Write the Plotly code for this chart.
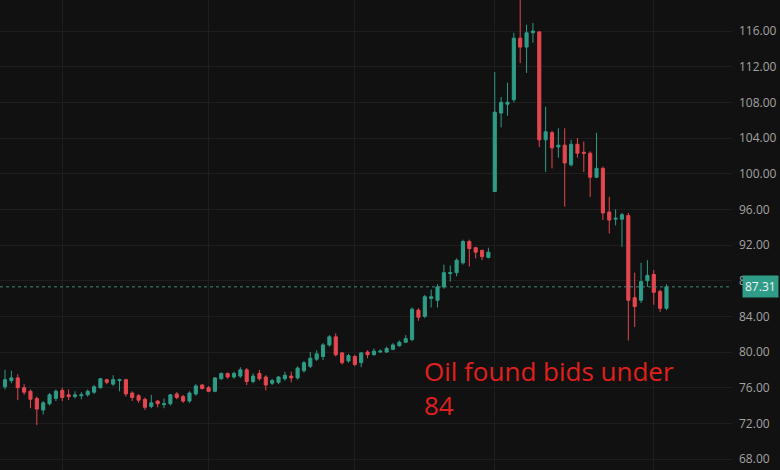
import plotly.graph_objects as go

opens = [76.1, 76.8, 77.1, 76.0, 75.6, 74.8, 73.5, 74.2, 74.8, 75.7,
         75.2, 75.0, 75.1, 75.2, 75.5, 76.0, 76.9, 76.4, 76.8, 76.9,
         75.4, 75.1, 74.7, 73.9, 74.5, 74.1, 74.2, 75.3, 75.0, 74.5,
         75.3, 76.3, 76.0, 75.6, 77.0, 77.6, 77.2, 77.3, 78.0, 76.7,
         77.6, 77.2, 76.5, 76.6, 77.0, 77.3, 77.1, 77.9, 78.4, 79.2,
         79.5, 80.8, 81.7, 79.9, 79.0, 79.5, 78.8, 80.0, 79.7, 80.0,
         80.0, 80.3, 80.7, 81.1, 81.4, 84.7, 84.0, 86.0, 85.8, 87.3,
         88.8, 88.9, 90.0, 92.4, 91.7, 91.4, 90.6, 98.0, 106.8, 107.8,
         108.3, 115.2, 114.2, 115.8, 115.9, 103.8, 104.6, 103.0, 103.2, 101.0,
         103.3, 102.4, 102.3, 99.6, 100.6, 95.7, 94.9, 94.9, 95.3, 86.1,
         85.8, 88.0, 88.7, 86.8, 84.9]
highs = [78.0, 77.9, 77.5, 76.4, 75.8, 75.0, 74.5, 75.4, 75.8, 76.0,
         75.8, 75.6, 75.5, 75.8, 76.3, 77.1, 77.0, 77.4, 77.0, 77.0,
         75.6, 75.3, 74.9, 75.2, 74.6, 74.8, 75.3, 75.5, 75.2, 75.6,
         76.4, 76.4, 76.2, 77.2, 77.7, 77.7, 77.8, 78.3, 78.2, 77.6,
         78.0, 77.4, 77.0, 77.3, 77.8, 77.8, 78.4, 79.0, 80.0, 80.2,
         81.0, 81.9, 82.1, 80.0, 79.8, 79.7, 80.0, 80.2, 80.4, 80.3,
         80.6, 81.0, 81.3, 81.9, 85.0, 84.9, 86.4, 87.0, 87.6, 89.8,
         89.7, 90.5, 92.6, 92.6, 91.8, 91.5, 91.7, 111.4, 108.6, 110.2,
         115.8, 120.0, 116.7, 116.9, 116.0, 107.5, 104.8, 105.1, 105.1, 103.8,
         104.0, 103.6, 102.5, 104.6, 100.8, 97.4, 96.0, 95.6, 95.6, 88.9,
         90.0, 90.3, 89.2, 87.0, 87.6]
lows = [75.8, 76.5, 74.6, 75.2, 73.7, 71.8, 73.0, 74.0, 74.5, 74.5,
        74.6, 74.8, 74.7, 75.0, 75.3, 75.9, 76.4, 76.2, 75.6, 75.0,
        74.5, 74.3, 73.5, 73.7, 73.8, 73.7, 74.0, 74.7, 74.3, 74.3,
        75.1, 75.8, 75.5, 75.5, 76.9, 77.0, 77.0, 77.1, 76.3, 76.5,
        76.8, 75.7, 76.3, 76.4, 76.8, 76.6, 76.9, 77.7, 78.2, 79.0,
        79.1, 80.6, 79.5, 78.6, 78.8, 78.4, 78.3, 79.3, 79.6, 79.9,
        79.9, 80.2, 80.6, 81.0, 81.2, 83.5, 83.8, 85.0, 85.0, 87.1,
        87.9, 88.5, 89.8, 89.6, 90.5, 90.3, 90.5, 98.0, 105.2, 106.5,
        108.0, 112.4, 111.3, 114.7, 103.0, 100.2, 100.6, 101.8, 96.3, 100.8,
        101.8, 100.2, 97.4, 99.5, 94.8, 93.3, 94.2, 91.8, 81.3, 82.8,
        85.5, 87.3, 85.3, 84.5, 84.7]
closes = [76.9, 77.1, 76.0, 75.5, 74.7, 73.6, 74.3, 75.2, 75.6, 74.9,
          75.0, 75.2, 75.2, 75.6, 76.1, 77.0, 76.6, 76.9, 76.9, 75.3,
          74.9, 74.6, 73.8, 74.3, 74.2, 74.2, 75.2, 74.9, 74.5, 75.4,
          76.2, 75.9, 75.6, 77.1, 77.6, 77.2, 77.6, 78.0, 76.7, 77.3,
          77.0, 76.3, 76.8, 77.2, 77.4, 77.1, 78.2, 78.8, 79.3, 79.8,
          80.8, 81.7, 79.7, 78.8, 79.6, 78.6, 79.9, 79.7, 80.1, 80.1,
          80.4, 80.8, 81.1, 81.5, 84.8, 83.9, 86.2, 86.2, 87.3, 88.9,
          88.9, 90.3, 92.4, 91.6, 91.2, 90.7, 91.2, 106.9, 108.0, 108.0,
          115.2, 114.2, 115.8, 116.0, 103.8, 104.7, 102.9, 103.2, 101.2, 103.3,
          102.3, 102.3, 99.6, 100.6, 95.6, 94.8, 95.0, 95.4, 85.8, 85.1,
          87.9, 88.6, 86.7, 84.9, 87.31]

bars = list(range(len(closes)))
month_starts = [9, 32, 55, 77, 102]
price_ticks = [68, 72, 76, 80, 84, 88, 92, 96, 100, 104, 108, 112, 116]
price_labels = [f"{v:.2f}" for v in price_ticks]
last_price = closes[-1]
note = "Oil found bids under<br>84"

GREEN = "#2e9c87"
RED = "#e5474f"
BG = "#111111"
GRID = "#1e1e1e"

fig = go.Figure(go.Candlestick(
    x=bars, open=opens, high=highs, low=lows, close=closes,
    increasing=dict(line=dict(color=GREEN, width=1), fillcolor=GREEN),
    decreasing=dict(line=dict(color=RED, width=1), fillcolor=RED),
    whiskerwidth=0, showlegend=False, hoverinfo="skip",
))

fig.add_shape(type="line", xref="paper", x0=0, x1=1, yref="y",
              y0=last_price, y1=last_price,
              line=dict(color="#3f8a7e", width=1, dash="dot"))

fig.add_annotation(xref="paper", x=1, yref="y", y=last_price,
                   text=f"{last_price:.2f}", showarrow=False,
                   xanchor="left", yanchor="middle", xshift=10,
                   bgcolor=GREEN, borderpad=2,
                   font=dict(family="Open Sans", size=12, color="#f2f2f2"))

fig.add_annotation(xref="paper", x=0.576, yref="y", y=76.0,
                   text=note, showarrow=False, align="left",
                   xanchor="left", yanchor="middle",
                   font=dict(family="Open Sans", size=26, color="#e0201c"))

fig.update_layout(
    width=780, height=470,
    margin=dict(l=0, r=48, t=0, b=0, autoexpand=False),
    paper_bgcolor=BG, plot_bgcolor=BG,
    xaxis=dict(range=[-0.79, 114.3], rangeslider=dict(visible=False),
               tickmode="array", tickvals=month_starts, showticklabels=False,
               showgrid=True, gridcolor=GRID, gridwidth=1, zeroline=False,
               showline=False, fixedrange=True),
    yaxis=dict(side="right", range=[66.77, 119.48], tickmode="array",
               tickvals=price_ticks, ticktext=price_labels,
               showgrid=True, gridcolor=GRID, gridwidth=1, zeroline=False,
               ticks="", ticklabelstandoff=6,
               tickfont=dict(family="Open Sans", size=12, color="#a3a3a3"),
               fixedrange=True),
    font=dict(family="Open Sans"),
)

fig.write_html("out.html", config={"displayModeBar": False, "staticPlot": True})

# remove the browser's default page margin so the chart sits at the window origin
with open("out.html", encoding="utf-8") as fh:
    page = fh.read()
page = page.replace("<head>", "<head><style>html,body{margin:0;padding:0;overflow:hidden;background:#111111;}</style>", 1)
with open("out.html", "w", encoding="utf-8") as fh:
    fh.write(page)
